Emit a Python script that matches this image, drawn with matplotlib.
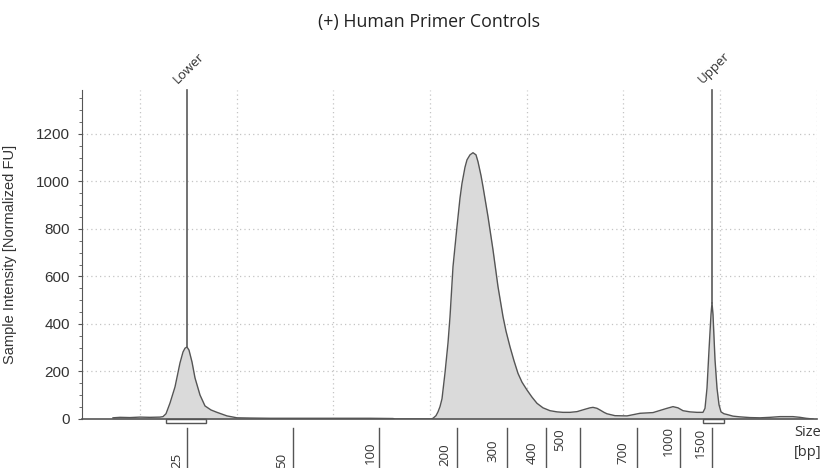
import matplotlib
matplotlib.use("Agg")
import matplotlib.pyplot as plt
from matplotlib import transforms
from matplotlib.patches import Rectangle

# ---------------- data ----------------
# migration position (arbitrary units along the run) and intensity [Normalized FU]
position = [113, 120, 130, 140, 150, 160, 163, 166, 170, 175, 180, 183, 185, 187, 189,
            192, 195, 200, 205, 211, 217, 227, 237, 250, 270, 290, 310, 330, 350, 370,
            393, 395, 431, 433, 436, 438, 440, 442, 445, 448, 450, 453, 457, 460, 462,
            465, 467, 470, 473, 476, 478, 481, 483, 488, 493, 498, 503, 506, 510, 514,
            518, 522, 527, 532, 537, 543, 550, 557, 563, 570, 577, 585, 590, 593, 597,
            600, 604, 607, 615, 627, 640, 653, 660, 667, 673, 678, 683, 690, 697, 703,
            705, 707, 709, 711, 712, 713, 715, 717, 719, 721, 724, 727, 733, 740, 750,
            760, 770, 780, 793, 800, 806, 813]
intensity = [5, 7, 6, 8, 7, 8, 10, 22, 67, 135, 236, 282, 298, 303, 290,
             240, 173, 101, 55, 38, 28, 13, 5, 4, 3, 3, 3, 3, 3, 3,
             2, 0, 0, 3, 14, 30, 52, 85, 194, 320, 430, 641, 810, 930, 992,
             1060, 1091, 1112, 1121, 1112, 1083, 1025, 978, 852, 712, 557, 431, 370, 304, 245,
             192, 155, 122, 92, 66, 47, 35, 30, 28, 28, 31, 41, 47, 49, 45,
             38, 28, 22, 14, 13, 24, 27, 36, 45, 52, 47, 35, 30, 28, 28,
             45, 130, 290, 440, 490, 440, 250, 130, 60, 30, 22, 19, 12, 9, 6,
             5, 7, 10, 10, 7, 3, 0]

size_labels = ["25", "50", "100", "200", "300", "400", "500", "700", "1000", "1500"]
size_positions = [187, 293, 379, 457, 507, 546, 580, 637, 680, 712]

marker_names = ["Lower", "Upper"]
marker_positions = [187, 712]
marker_heights = [303, 490]
marker_box_left = [166, 703]
marker_box_right = [206, 724]

y_ticks = [0, 200, 400, 600, 800, 1000, 1200]
grid_x = [140, 237, 333, 430, 527, 623, 720, 817]

# ---------------- layout ----------------
W, H = 822, 468
label_dx = [-10, -11, -9, -12, -14, -14, -20, -14, -12, -12]      # px
label_yc = [460, 460, 453, 455, 451, 453, 440, 453, 441, 443]     # px from top

line_col = "#555555"
text_col = "#333333"
grid_col = "#c4c4c4"

fig = plt.figure(figsize=(W / 100, H / 100), dpi=100)
ax = fig.add_axes([82 / W, (H - 419) / H, (817 - 82) / W, (419 - 90) / H])
ax.set_xlim(82, 817)
ax.set_ylim(0, 1385)

# grid
for g in y_ticks[1:]:
    ax.axhline(g, color=grid_col, lw=0.9, ls=(0, (1, 2.5)), zorder=0)
for g in grid_x:
    ax.axvline(g, color=grid_col, lw=0.9, ls=(0, (1, 2.5)), zorder=0)

# trace
ax.fill_between(position, intensity, 0, color="#dadada", lw=0, zorder=1)
ax.plot(position, intensity, color=line_col, lw=1.0, zorder=2)

# markers
for name, xp, hgt, bl, br in zip(marker_names, marker_positions, marker_heights,
                                 marker_box_left, marker_box_right):
    ax.plot([xp, xp], [hgt, 1385], color="#5a5a5a", lw=1.2, zorder=3, clip_on=False)
    ax.add_patch(Rectangle((bl, -17), br - bl, 17, fill=False, edgecolor=line_col,
                           lw=1.0, clip_on=False, zorder=3))
    ax.annotate(name, xy=(xp, 1385), xytext=(-5, 3), textcoords="offset points",
                rotation=45, rotation_mode="anchor", ha="left", va="bottom",
                fontsize=9.5, family="Open Sans", color=text_col)

# axes styling
for s in ["top", "right"]:
    ax.spines[s].set_visible(False)
ax.spines["left"].set_color(line_col)
ax.spines["bottom"].set_color(line_col)
ax.spines["bottom"].set_linewidth(1.2)
ax.set_xticks([])
ax.set_yticks(y_ticks)
ax.set_yticks(list(range(0, 1385, 50)), minor=True)
ax.tick_params(axis="y", which="major", direction="out", length=3, width=0.8,
               pad=5.5, colors=line_col, labelcolor=text_col, labelsize=11)
ax.tick_params(axis="y", which="minor", direction="out", length=2, width=0.6,
               colors=line_col)
for lab in ax.get_yticklabels():
    lab.set_family("Liberation Sans")
ax.set_ylabel("Sample Intensity [Normalized FU]", fontsize=10.5, family="Liberation Sans",
              color=text_col, labelpad=8)
ax.yaxis.set_label_coords(-(82 - 17) / (817 - 82), 0.5)

# size ticks below the plot
tr = transforms.blended_transform_factory(ax.transData, fig.transFigure)
for lab, xp, dx, yc in zip(size_labels, size_positions, label_dx, label_yc):
    ax.plot([xp, xp], [0, (H - 428) / H], transform=tr, color=line_col, lw=1.0,
            clip_on=False)
    ax.text(xp + dx, (H - yc) / H, lab, transform=tr, rotation=90, ha="center",
            va="center", fontsize=9.5, family="Open Sans", color=text_col)

fig.text(808 / W, (H - 432) / H, "Size", ha="center", va="center", fontsize=10.5,
         family="Open Sans", color=text_col)
fig.text(808 / W, (H - 453) / H, "[bp]", ha="center", va="center", fontsize=10.5,
         family="Open Sans", color=text_col)

fig.text(429 / W, (H - 22) / H, "(+) Human Primer Controls", ha="center", va="center",
         fontsize=12.8, family="Open Sans", color="#222222")

fig.savefig("out.png", dpi=100)
